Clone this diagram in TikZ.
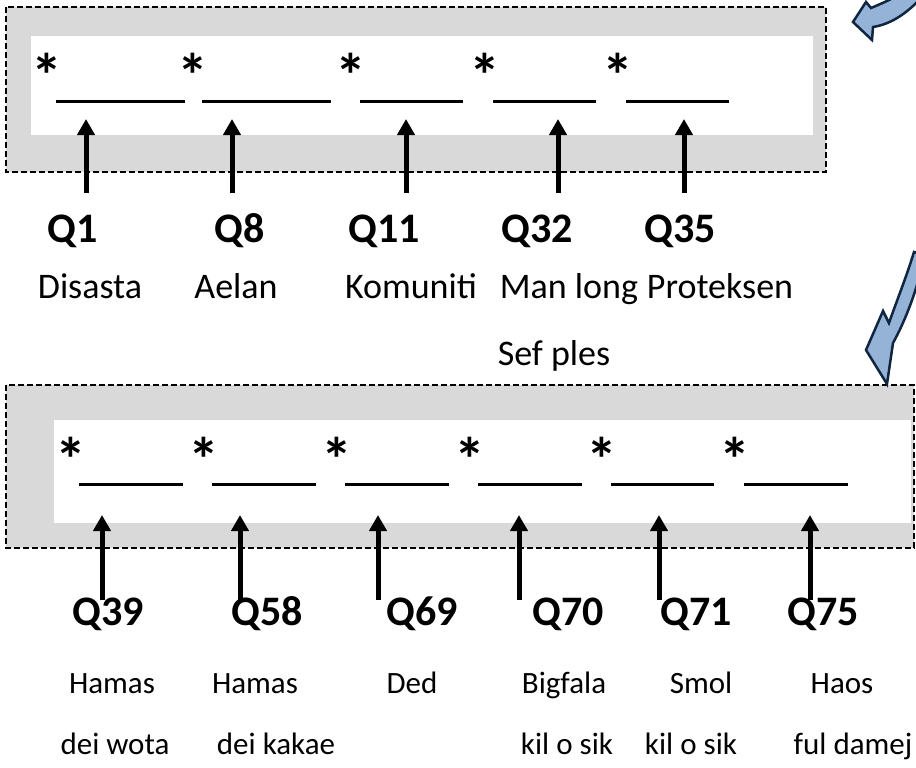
\documentclass[tikz,border=0pt]{standalone}
\usepackage{fontspec}
\setmainfont{Carlito}
\usetikzlibrary{arrows.meta}
\definecolor{boxgray}{HTML}{D9D9D9}
\definecolor{curvefill}{HTML}{95B3D7}
\definecolor{curveline}{HTML}{10253F}
\begin{document}
\begin{tikzpicture}[x=1pt,y=-1pt,
  qlab/.style={font=\fontsize{42}{42}\selectfont\bfseries, anchor=base, inner sep=0pt},
  namebig/.style={font=\fontsize{36}{36}\selectfont, anchor=base, inner sep=0pt},
  namesmall/.style={font=\fontsize{31}{31}\selectfont, anchor=base, inner sep=0pt},
  starmark/.style={font=\fontsize{62}{62}\selectfont\bfseries, anchor=base, inner sep=0pt},
  blank/.style={line width=3pt},
  uparrow/.style={line width=5pt, -{Triangle[width=17pt,length=16pt]}},
  outerbox/.style={fill=boxgray, draw=black, line width=2pt, dash pattern=on 6pt off 3pt},
  innerbox/.style={fill=white},
  curvearrow/.style={fill=curvefill, draw=curveline, line width=2.5pt, line join=miter}]
\useasboundingbox (0,0) rectangle (916,768);
\clip (0,0) rectangle (916,768);
\fill[white] (0,0) rectangle (916,768);

% ---------- top box ----------
\draw[outerbox] (6,7) rectangle (826,172);
\fill[innerbox] (31,36) rectangle (813,135);

\foreach \i/\x in {1/47,2/193,3/351,4/485,5/618}
  \node[starmark] (ts\i) at (\x,98) {*};
\foreach \i/\a/\b in {1/56/185,2/202/331,3/360/463,4/493/596,5/626/729}{
  \coordinate (tbl\i) at (\a,101);
  \coordinate (tbr\i) at (\b,101);
  \draw[blank] (tbl\i) -- (tbr\i);
}

\node[qlab] (q1)  at (73,242)  {Q1};
\node[qlab] (q8)  at (240,242) {Q8};
\node[qlab] (q11) at (384,242) {Q11};
\node[qlab] (q32) at (537,242) {Q32};
\node[qlab] (q35) at (680,242) {Q35};

\foreach \i/\x in {1/86,2/232,3/406,4/558,5/684}{
  \coordinate (tt\i) at (\x,119);
  \coordinate (tb\i) at (\x,193);
  \draw[uparrow] (tb\i) -- (tt\i);
}

\node[namebig] (n1) at (90,298)  {Disasta};
\node[namebig] (n2) at (236,298) {Aelan};
\node[namebig] (n3) at (411,298) {Komuniti};
\node[namebig] (n4) at (569,298) {Man long};
\node[namebig] (n5) at (720,298) {Proteksen};
\node[namebig] (n6) at (554,365) {Sef ples};

% ---------- bottom box ----------
\draw[outerbox] (6,385) rectangle (914,548);
\fill[innerbox] (54,420) rectangle (911,523);

\foreach \i/\x in {1/71,2/204,3/337,4/470,5/602,6/735}
  \node[starmark] (bs\i) at (\x,481) {*};
\foreach \i/\a/\b in {1/79/183,2/212/316,3/345/449,4/478/582,5/611/714,6/744/848}{
  \coordinate (bbl\i) at (\a,484);
  \coordinate (bbr\i) at (\b,484);
  \draw[blank] (bbl\i) -- (bbr\i);
}

\node[qlab] (q39) at (108,625) {Q39};
\node[qlab] (q58) at (267,625) {Q58};
\node[qlab] (q69) at (422,625) {Q69};
\node[qlab] (q70) at (568,625) {Q70};
\node[qlab] (q71) at (696,625) {Q71};
\node[qlab] (q75) at (823,625) {Q75};

\foreach \i/\x in {1/102,2/240,3/378,4/519,5/659,6/810}{
  \coordinate (bt\i) at (\x,515);
  \coordinate (bb\i) at (\x,600);
  \draw[uparrow] (bb\i) -- (bt\i);
}

\node[namesmall] (m1) at (112,693) {Hamas};
\node[namesmall] (m2) at (255,693) {Hamas};
\node[namesmall] (m3) at (412,693) {Ded};
\node[namesmall] (m4) at (564,693) {Bigfala};
\node[namesmall] (m5) at (701,693) {Smol};
\node[namesmall] (m6) at (842,693) {Haos};
\node[namesmall] (k1) at (115,754) {dei wota};
\node[namesmall] (k2) at (276,754) {dei kakae};
\node[namesmall] (k4) at (567,754) {kil o sik};
\node[namesmall] (k5) at (691,754) {kil o sik};
\node[namesmall] (k6) at (853,754) {ful damej};

% ---------- curved arrows ----------
\draw[curvearrow] (853,22) -- (866,2) -- (871,8)
  .. controls (885,2) and (895,-2) .. (905,-10) -- (928,-10)
  .. controls (910,12) and (892,24) .. (873,27) -- (872,40) -- cycle;
\draw[curvearrow] (887,384) -- (866,350) -- (883,311) -- (889,323)
  .. controls (897,300) and (906,278) .. (914,252) -- (925,255)
  .. controls (916,295) and (903,325) .. (893,343) -- cycle;
\end{tikzpicture}
\end{document}
